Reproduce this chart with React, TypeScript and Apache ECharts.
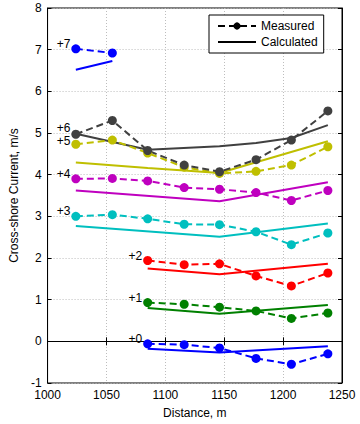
import React, { useEffect, useRef } from "react";
import * as echarts from "echarts";

// Distances (m) of measurement stations
const xAll = [1024, 1055, 1085, 1116, 1146, 1177, 1207, 1238];
const xShort = [1024, 1055];
const xLate = [1085, 1116, 1146, 1177, 1207, 1238];

// Measured (dashed + markers), values already offset
const meas7 = [7.02, 6.92];
const meas6 = [4.97, 5.3, 4.58, 4.23, 4.07, 4.36, 4.83, 5.53];
const meas5 = [4.73, 4.83, 4.52, 4.18, 4.03, 4.08, 4.23, 4.67];
const meas4 = [3.9, 3.91, 3.85, 3.69, 3.65, 3.57, 3.38, 3.62];
const meas3 = [3.0, 3.04, 2.94, 2.81, 2.8, 2.63, 2.32, 2.6];
const meas2 = [1.94, 1.84, 1.86, 1.57, 1.33, 1.64];
const meas1 = [0.93, 0.89, 0.82, 0.73, 0.55, 0.68];
const meas0 = [-0.06, -0.08, -0.16, -0.41, -0.55, -0.3];

// Calculated (solid) vertices
const calc7x = [1024, 1055];
const calc7 = [6.52, 6.73];
const calc6x = [1024, 1085, 1146, 1177, 1207, 1238];
const calc6 = [4.98, 4.6, 4.68, 4.76, 4.88, 5.19];
const calc5x = [1024, 1085, 1116, 1146, 1238];
const calc5 = [4.29, 4.16, 4.1, 4.04, 4.8];
const calc4x = [1024, 1146, 1238];
const calc4 = [3.62, 3.36, 3.82];
const calc3x = [1024, 1146, 1238];
const calc3 = [2.77, 2.51, 2.83];
const calc2x = [1085, 1146, 1238];
const calc2 = [1.75, 1.61, 1.86];
const calc1x = [1085, 1146, 1238];
const calc1 = [0.8, 0.66, 0.87];
const calc0x = [1085, 1146, 1238];
const calc0 = [-0.18, -0.27, -0.12];

const offsetLabels = ["+0", "+1", "+2", "+3", "+4", "+5", "+6", "+7"];
const colors = ["#0000ff", "#008000", "#ff0000", "#00bfbf", "#bf00bf", "#bfbf00", "#404040", "#0000ff"];

const FONT = "Liberation Sans, Arial, Helvetica, sans-serif";

export default function App() {
  const ref = useRef<HTMLDivElement>(null);
  useEffect(() => {
    if (!ref.current) return;
    const chart = echarts.init(ref.current, undefined, { renderer: "svg" });

    const measured = [
      { xs: xLate, ys: meas0 },
      { xs: xLate, ys: meas1 },
      { xs: xLate, ys: meas2 },
      { xs: xAll, ys: meas3 },
      { xs: xAll, ys: meas4 },
      { xs: xAll, ys: meas5 },
      { xs: xAll, ys: meas6 },
      { xs: xShort, ys: meas7 },
    ];
    const calculated = [
      { xs: calc0x, ys: calc0 },
      { xs: calc1x, ys: calc1 },
      { xs: calc2x, ys: calc2 },
      { xs: calc3x, ys: calc3 },
      { xs: calc4x, ys: calc4 },
      { xs: calc5x, ys: calc5 },
      { xs: calc6x, ys: calc6 },
      { xs: calc7x, ys: calc7 },
    ];

    const labelOffsetY = [-5, -5, -5, -5, -5, -3, -6, -5];

    const series: any[] = [];
    for (let i = 0; i < 8; i++) {
      const c = colors[i];
      const cd = calculated[i];
      series.push({
        type: "line",
        name: "calc" + i,
        data: cd.xs.map((x, j) => [x, cd.ys[j]]),
        symbol: "none",
        lineStyle: { color: c, width: 2, type: "solid" },
        itemStyle: { color: c },
        z: 2,
      });
    }
    for (let i = 0; i < 8; i++) {
      const c = colors[i];
      const md = measured[i];
      series.push({
        type: "line",
        name: "meas" + i,
        data: md.xs.map((x, j) =>
          j === 0
            ? {
                value: [x, md.ys[j]],
                label: {
                  show: true,
                  formatter: offsetLabels[i],
                  position: "left",
                  distance: 1,
                  offset: [0, labelOffsetY[i]],
                  color: "#000",
                  fontSize: 12,
                  lineHeight: 12,
                  fontFamily: FONT,
                },
              }
            : [x, md.ys[j]]
        ),
        symbol: "circle",
        symbolSize: 9,
        lineStyle: { color: c, width: 2, type: [7, 4] },
        itemStyle: { color: c },
        z: 3,
      });
    }
    series.push({
      type: "line",
      name: "Measured",
      data: [],
      symbol: "circle",
      symbolSize: 9,
      lineStyle: { color: "#000", width: 2, type: [7, 4] },
      itemStyle: { color: "#000" },
    });
    series.push({
      type: "line",
      name: "Calculated",
      data: [],
      symbol: "none",
      lineStyle: { color: "#000", width: 2, type: "solid" },
      itemStyle: { color: "#000" },
    });

    chart.setOption({
      animation: false,
      textStyle: { fontFamily: FONT },
      grid: {
        left: 37,
        right: 18,
        top: 8,
        bottom: 36,
        show: true,
        borderColor: "#000",
        borderWidth: 1,
        backgroundColor: "#fff",
      },
      legend: {
        data: [
          { name: "Measured" },
          { name: "Calculated", itemStyle: { color: "rgba(0,0,0,0)", opacity: 0 } },
        ],
        orient: "vertical",
        left: 209,
        top: 15,
        width: 116,
        backgroundColor: "#fff",
        borderColor: "#000",
        borderWidth: 1,
        padding: [5, 6, 5, 8],
        itemWidth: 38,
        itemHeight: 9,
        itemGap: 4,
        selectedMode: false,
        textStyle: { fontSize: 12, color: "#000", fontFamily: FONT },
      },
      xAxis: [
        {
          type: "value",
          min: 1000,
          max: 1250,
          interval: 50,
          name: "Distance, m",
          nameLocation: "middle",
          nameGap: 24,
          nameTextStyle: { fontSize: 12, color: "#000", fontFamily: FONT },
          axisLine: { show: true, lineStyle: { color: "#000" } },
          axisTick: { show: true, inside: true, length: 4, lineStyle: { color: "#000" } },
          axisLabel: {
            color: "#000",
            fontSize: 12,
            margin: 6,
            fontFamily: FONT,
            formatter: (v: number) => String(v),
          },
          splitLine: { show: true, lineStyle: { color: "#bdbdbd", type: [1, 2] } },
        },
        {
          type: "value",
          position: "top",
          min: 1000,
          max: 1250,
          interval: 50,
          axisLine: { show: true, lineStyle: { color: "#000" } },
          axisTick: { show: true, inside: true, length: 4, lineStyle: { color: "#000" } },
          axisLabel: { show: false },
          splitLine: { show: false },
        },
      ],
      yAxis: [
        {
          type: "value",
          min: -1,
          max: 8,
          interval: 1,
          name: "Cross-shore Current, m/s",
          nameLocation: "middle",
          nameGap: 20,
          nameTextStyle: { fontSize: 12, color: "#000", fontFamily: FONT },
          axisLine: { show: true, lineStyle: { color: "#000" } },
          axisTick: { show: true, inside: true, length: 4, lineStyle: { color: "#000" } },
          axisLabel: { color: "#000", fontSize: 12, margin: 6, fontFamily: FONT },
          splitLine: { show: true, lineStyle: { color: "#bdbdbd", type: [1, 2] } },
        },
        {
          type: "value",
          position: "right",
          min: -1,
          max: 8,
          interval: 1,
          axisLine: { show: true, lineStyle: { color: "#000" } },
          axisTick: { show: true, inside: true, length: 4, lineStyle: { color: "#000" } },
          axisLabel: { show: false },
          splitLine: { show: false },
        },
      ],
      series,
    });
    return () => chart.dispose();
  }, []);
  return (
    <div
      ref={ref}
      style={{ position: "fixed", left: 0, top: 0, width: 360, height: 424, background: "#fff" }}
    />
  );
}
